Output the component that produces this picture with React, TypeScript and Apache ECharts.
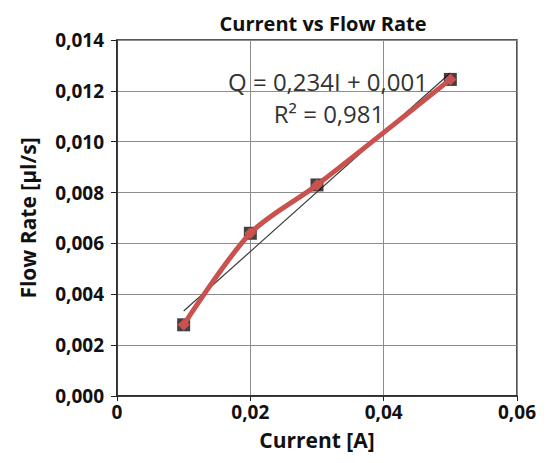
import React, { useEffect, useRef } from "react";
import * as echarts from "echarts";

const currents = [0.01, 0.02, 0.03, 0.05];
const flowRates = [0.0028, 0.0064, 0.0083, 0.01245];
const trendX = [0.01, 0.05];
const trendY = [0.00334, 0.0127];
const xTicks = ["0", "0,02", "0,04", "0,06"];
const titleText = "Current vs Flow Rate";
const equationText = "Q = 0,234I + 0,001";
const r2Text = "R² = 0,981";

const FONT = "'Open Sans', 'Noto Sans', sans-serif";

export default function App() {
  const ref = useRef<HTMLDivElement>(null);
  useEffect(() => {
    if (!ref.current) return;
    const chart = echarts.init(ref.current, undefined, { renderer: "svg" });
    const pts = currents.map((c, i) => [c, flowRates[i]]);
    const trend = trendX.map((x, i) => [x, trendY[i]]);
    chart.setOption({
      animation: false,
      backgroundColor: "#ffffff",
      title: {
        text: titleText,
        left: 310,
        top: 0,
        textAlign: "center",
        textStyle: { fontFamily: FONT, fontSize: 20, fontWeight: "bold", color: "#111" },
      },
      grid: {
        left: 109,
        right: 12,
        top: 32,
        bottom: 58,
        show: true,
        borderColor: "#222",
        borderWidth: 1.5,
      },
      xAxis: {
        type: "value",
        min: 0,
        max: 0.06,
        interval: 0.02,
        name: "Current [A]",
        nameLocation: "middle",
        nameGap: 33,
        nameTextStyle: { fontFamily: FONT, fontSize: 21, fontWeight: "bold", color: "#111" },
        axisLine: { show: true, lineStyle: { color: "#222", width: 1.5 } },
        axisTick: { show: true, inside: false, length: 5, lineStyle: { color: "#222" } },
        splitLine: { show: true, lineStyle: { color: "#8c8c8c", width: 1 } },
        axisLabel: {
          fontFamily: FONT,
          fontSize: 19,
          fontWeight: "bold",
          color: "#111",
          margin: 6,
          formatter: (v: number) => xTicks[Math.round(v / 0.02)] ?? "",
        },
      },
      yAxis: {
        type: "value",
        min: 0,
        max: 0.014,
        interval: 0.002,
        name: "Flow Rate [µl/s]",
        nameLocation: "middle",
        nameGap: 79,
        nameTextStyle: { fontFamily: FONT, fontSize: 21, fontWeight: "bold", color: "#111" },
        axisLine: { show: true, lineStyle: { color: "#222", width: 1.5 } },
        axisTick: { show: true, inside: false, length: 6, lineStyle: { color: "#222" } },
        splitLine: { show: true, lineStyle: { color: "#8c8c8c", width: 1 } },
        axisLabel: {
          fontFamily: FONT,
          fontSize: 19,
          fontWeight: "bold",
          color: "#111",
          margin: 13,
          formatter: (v: number) => v.toFixed(3).replace(".", ","),
        },
      },
      series: [
        {
          name: "trend",
          type: "line",
          data: trend,
          showSymbol: false,
          symbol: "none",
          lineStyle: { color: "#3a3a3a", width: 1.2 },
          z: 2,
        },
        {
          name: "markers",
          type: "scatter",
          data: pts,
          symbol: "rect",
          symbolSize: 13,
          itemStyle: { color: "#111" },
          z: 3,
        },
        {
          name: "flow",
          type: "line",
          data: pts,
          smooth: 0.3,
          symbol: "diamond",
          symbolSize: 12,
          itemStyle: { color: "#c9524f" },
          lineStyle: { color: "#c9524f", width: 5 },
          z: 4,
        },
      ],
      graphic: [
        {
          type: "text",
          x: 320,
          y: 73,
          style: {
            text: equationText,
            fontFamily: FONT,
            fontSize: 24,
            fill: "#333",
            align: "center",
            verticalAlign: "middle",
          },
          z: 10,
        },
        {
          type: "text",
          x: 321,
          y: 105,
          style: {
            text: r2Text,
            fontFamily: FONT,
            fontSize: 24,
            fill: "#333",
            align: "center",
            verticalAlign: "middle",
          },
          z: 10,
        },
      ],
    });
    return () => chart.dispose();
  }, []);
  return <div ref={ref} style={{ width: 531, height: 447 }} />;
}
